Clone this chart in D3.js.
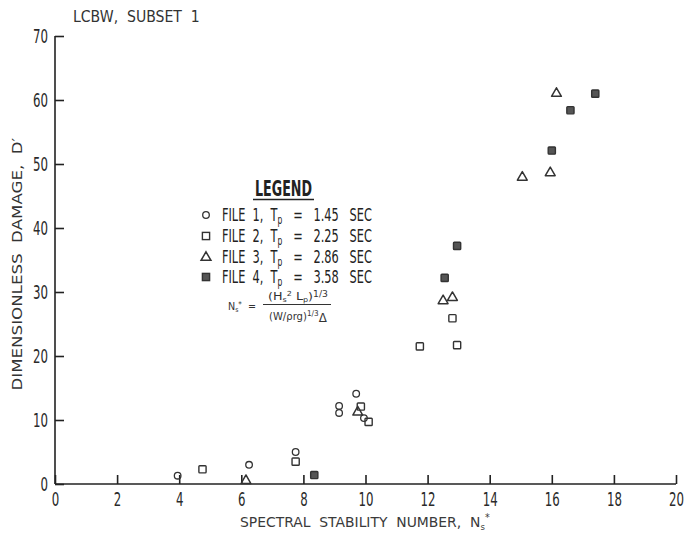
<!DOCTYPE html>
<html><head><meta charset="utf-8">
<script src="https://cdn.jsdelivr.net/npm/d3@7/dist/d3.min.js"></script>
<style>
html,body{margin:0;padding:0;background:#fff;}
text{font-family:"DejaVu Sans",sans-serif;fill:#222;}
</style></head>
<body>
<svg id="c" width="684" height="534"></svg>
<script>
// ---- data ----
const xTicks = [0,2,4,6,8,10,12,14,16,18,20];
const yTicks = [0,10,20,30,40,50,60,70];
const file1X = [3.95, 6.25, 7.75, 9.15, 9.15, 9.7, 9.95];
const file1Y = [1.3, 3.0, 5.0, 12.2, 11.1, 14.1, 10.3];
const file2X = [4.75, 7.75, 9.85, 10.1, 11.75, 12.95, 12.8];
const file2Y = [2.3, 3.5, 12.1, 9.7, 21.5, 21.7, 25.9];
const file3X = [6.15, 9.75, 12.5, 12.8, 15.05, 15.95, 16.15];
const file3Y = [0.6, 11.3, 28.7, 29.2, 48.0, 48.7, 61.1];
const file4X = [8.35, 12.55, 12.95, 16.0, 16.6, 17.4];
const file4Y = [1.4, 32.2, 37.2, 52.1, 58.4, 61.0];
const legendFiles = ["1","2","3","4"];
const legendTp = ["1.45","2.25","2.86","3.58"];

const svg = d3.select("#c");
const x = d3.scaleLinear().domain([0,20]).range([55,676]);
const y = d3.scaleLinear().domain([0,70]).range([484,36]);
const ink = "#222";
const SX = 0.62; // horizontal condensing of the typeface

// helper: text squeezed to a target width (x = left edge, or centre if middle)
function fitText(x0, y0, w, size, build, opts={}){
  const g = svg.append("g");
  const t = g.append("text").attr("x",0).attr("y",0).attr("font-size",size);
  if(opts.fill) t.style("fill",opts.fill);
  if(opts.weight) t.attr("font-weight",opts.weight);
  t.style("white-space","pre");
  build(t);
  const bw = t.node().getBBox().width;
  const s = w / bw;
  const shift = opts.middle ? -w/2 : 0;
  const rot = opts.rotate ? ` rotate(${opts.rotate})` : "";
  g.attr("transform",`translate(${x0},${y0})${rot} translate(${shift},0) scale(${s},1)`);
  return g;
}

// axes
const xAxis = d3.axisBottom(x).tickValues(xTicks).tickSize(-9).tickPadding(9).tickFormat(d3.format("d"));
const gx = svg.append("g").attr("transform",`translate(0,${y(0)})`).call(xAxis);
gx.select(".domain").attr("stroke",ink).attr("stroke-width",1.6).attr("d",`M${x(0)},0H${x(20)}`);
gx.selectAll(".tick line").attr("stroke",ink).attr("stroke-width",1.6);
gx.selectAll(".tick text").attr("font-size",19).style("fill","#2a2a2a").attr("transform",`scale(${SX},1)`);

const yAxis = d3.axisLeft(y).tickValues(yTicks).tickSize(-9).tickPadding(7).tickFormat(d3.format("d"));
const gy = svg.append("g").attr("transform",`translate(${x(0)},0)`).call(yAxis);
gy.select(".domain").attr("stroke",ink).attr("stroke-width",1.6).attr("d",`M0,${y(0)}V${y(70)}`);
gy.selectAll(".tick line").attr("stroke",ink).attr("stroke-width",1.6);
gy.selectAll(".tick text").attr("font-size",19).style("fill","#2a2a2a")
  .attr("x",-7/SX).attr("transform",`scale(${SX},1)`);

// titles
fitText(73, 22, 127, 15, t=>t.text("LCBW,  SUBSET  1"), {fill:"#333"});
fitText(365, 527, 250, 14.5, t=>{
  t.append("tspan").text("SPECTRAL  STABILITY  NUMBER,  N");
  t.append("tspan").attr("font-size",9).attr("dy",3).text("s");
  t.append("tspan").attr("font-size",10).attr("dy",-9).text("*");
}, {fill:"#3a3a3a", middle:true});
fitText(22, 264, 253, 14.5, t=>t.text("DIMENSIONLESS  DAMAGE,  D\u2032"), {fill:"#333", rotate:-90, middle:true});

// markers
function circles(xs,ys){
  svg.append("g").selectAll("circle").data(xs).join("circle")
    .attr("cx",d=>x(d)).attr("cy",(d,i)=>y(ys[i])).attr("r",3.3)
    .attr("fill","none").attr("stroke","#333").attr("stroke-width",1.3);
}
function squares(xs,ys,filled){
  svg.append("g").selectAll("rect").data(xs).join("rect")
    .attr("x",d=>x(d)-3.6).attr("y",(d,i)=>y(ys[i])-3.6).attr("width",7.2).attr("height",7.2).attr("rx",0.8)
    .attr("fill",filled?"#555":"none").attr("stroke","#333").attr("stroke-width",1.4);
}
function triangles(xs,ys){
  const tri = d3.symbol().type(d3.symbolTriangle).size(42);
  svg.append("g").selectAll("path").data(xs).join("path")
    .attr("d",tri).attr("transform",(d,i)=>`translate(${x(d)},${y(ys[i])+0.5})`)
    .attr("fill","none").attr("stroke","#333").attr("stroke-width",1.5).attr("stroke-linejoin","round");
}
circles(file1X,file1Y);
squares(file2X,file2Y,false);
triangles(file3X,file3Y);
squares(file4X,file4Y,true);

// legend
fitText(255, 196, 57, 22, t=>t.text("LEGEND"), {weight:"bold", fill:"#222"});
svg.append("line").attr("x1",253).attr("x2",314).attr("y1",199.5).attr("y2",199.5).attr("stroke",ink).attr("stroke-width",1.5);
const rowY = [215,236,257,277];
const mk = 206;
svg.append("circle").attr("cx",mk).attr("cy",rowY[0]).attr("r",3.3).attr("fill","none").attr("stroke","#333").attr("stroke-width",1.3);
svg.append("rect").attr("x",mk-3.6).attr("y",rowY[1]-3.6).attr("width",7.2).attr("height",7.2).attr("fill","none").attr("stroke","#333").attr("stroke-width",1.4);
svg.append("path").attr("d",d3.symbol().type(d3.symbolTriangle).size(42)).attr("transform",`translate(${mk},${rowY[2]+0.5})`).attr("fill","none").attr("stroke","#333").attr("stroke-width",1.5);
svg.append("rect").attr("x",mk-3.6).attr("y",rowY[3]-3.6).attr("width",7.2).attr("height",7.2).attr("fill","#555").attr("stroke","#333").attr("stroke-width",1.4);
legendFiles.forEach((f,i)=>{
  fitText(222, rowY[i]+6, 150, 18, t=>{
    t.append("tspan").text(`FILE  ${f},  T`);
    t.append("tspan").attr("font-size",12).attr("dy",3).text("p");
    t.append("tspan").attr("dy",-3).text(`   =   ${legendTp[i]}   SEC`);
  }, {fill:"#222"});
});

// formula
fitText(228, 310, 28, 11, t=>{
  t.append("tspan").text("N");
  t.append("tspan").attr("font-size",7).attr("dy",2).text("s");
  t.append("tspan").attr("font-size",8).attr("dy",-5).text("*");
  t.append("tspan").attr("dy",3).text("  =");
}, {fill:"#333"});
fitText(298, 300, 60, 11, t=>{
  t.append("tspan").text("(H");
  t.append("tspan").attr("font-size",7).attr("dy",2).text("s");
  t.append("tspan").attr("font-size",7).attr("dy",-6).text("2");
  t.append("tspan").attr("dy",4).text(" L");
  t.append("tspan").attr("font-size",7).attr("dy",2).text("p");
  t.append("tspan").attr("dy",-2).text(")");
  t.append("tspan").attr("font-size",8).attr("dy",-3).text("1/3");
}, {fill:"#333", middle:true});
svg.append("line").attr("x1",263).attr("x2",331).attr("y1",304.5).attr("y2",304.5).attr("stroke","#333").attr("stroke-width",1);
fitText(298, 320, 58, 11, t=>{
  t.append("tspan").text("(W/\u03c1rg)");
  t.append("tspan").attr("font-size",8).attr("dy",-4).text("1/3");
  t.append("tspan").attr("font-size",13).attr("dy",6).text("\u0394");
}, {fill:"#333", middle:true});
</script>
</body></html>
